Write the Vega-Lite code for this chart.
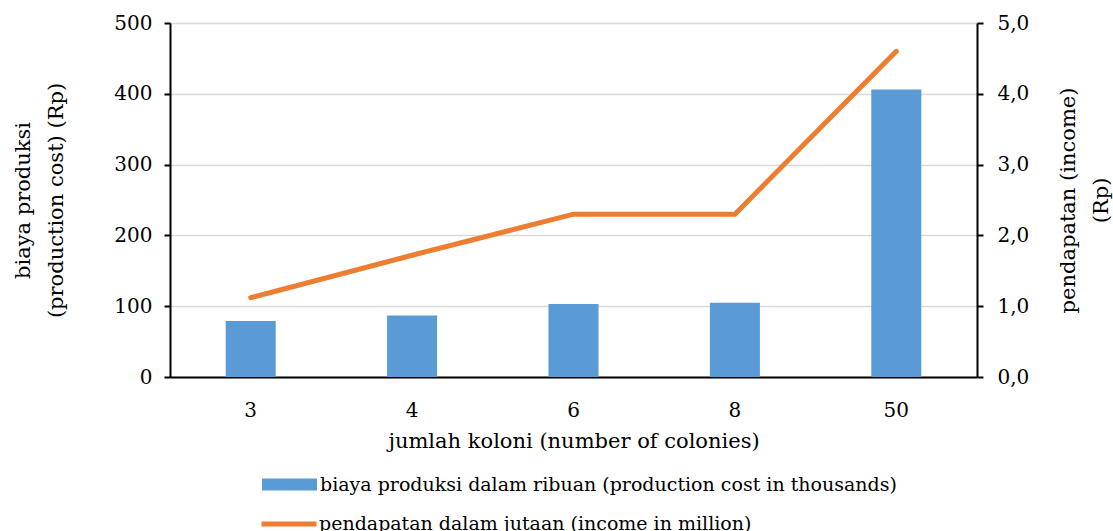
{
  "$schema": "https://vega.github.io/schema/vega-lite/v6.json",
  "width": 807,
  "height": 354,
  "autosize": {"type": "none"},
  "padding": {"left": 170, "top": 23, "right": 136, "bottom": 154},
  "background": "white",
  "config": {
    "locale": {"number": {"decimal": ",", "thousands": ".", "grouping": [3], "currency": ["Rp", ""]}},
    "view": {"stroke": null},
    "font": "DejaVu Serif",
    "axis": {
      "labelFont": "DejaVu Serif",
      "titleFont": "DejaVu Serif",
      "labelColor": "#000000",
      "titleColor": "#000000",
      "titleFontWeight": "normal",
      "labelFontSize": 20,
      "titleFontSize": 21,
      "titleLineHeight": 33,
      "domainColor": "#000000",
      "domainWidth": 2,
      "tickColor": "#000000",
      "tickWidth": 2,
      "gridColor": "#d9d9d9",
      "gridWidth": 1.5
    }
  },
  "data": {
    "values": [
      {"koloni": "3", "biaya": 79, "pendapatan": 1.12},
      {"koloni": "4", "biaya": 87, "pendapatan": 1.72},
      {"koloni": "6", "biaya": 103, "pendapatan": 2.3},
      {"koloni": "8", "biaya": 105, "pendapatan": 2.3},
      {"koloni": "50", "biaya": 406, "pendapatan": 4.6}
    ]
  },
  "encoding": {
    "x": {
      "field": "koloni",
      "type": "ordinal",
      "sort": null,
      "scale": {"paddingInner": 0.69, "paddingOuter": 0.345},
      "axis": {
        "title": "jumlah koloni (number of colonies)",
        "labelAngle": 0,
        "ticks": false,
        "tickSize": 0,
        "labelPadding": 23,
        "titlePadding": 10,
        "grid": false
      }
    }
  },
  "layer": [
    {
      "mark": {"type": "bar", "color": "#5B9BD5"},
      "encoding": {
        "y": {
          "field": "biaya",
          "type": "quantitative",
          "scale": {"domain": [0, 500]},
          "axis": {
            "values": [0, 100, 200, 300, 400, 500],
            "title": ["biaya produksi", "(production cost) (Rp)"],
            "tickSize": 6,
            "labelPadding": 12,
            "titlePadding": 47,
            "grid": true
          }
        },
        "color": {
          "datum": "biaya produksi dalam ribuan (production cost in thousands)",
          "scale": {"range": ["#5B9BD5"]},
          "legend": {
            "orient": "none",
            "legendX": 92,
            "legendY": 434,
            "title": null,
            "symbolType": "M-1,-0.22H1V0.22H-1Z",
            "symbolSize": 3025,
            "symbolStrokeWidth": 0,
            "symbolOpacity": 1,
            "labelFont": "DejaVu Serif",
            "labelFontSize": 19,
            "labelColor": "#000000",
            "labelOffset": 3,
            "labelLimit": 800
          }
        }
      }
    },
    {
      "mark": {"type": "line", "color": "#ED7D31", "strokeWidth": 5, "strokeCap": "round"},
      "encoding": {
        "y": {
          "field": "pendapatan",
          "type": "quantitative",
          "scale": {"domain": [0, 5]},
          "axis": {
            "orient": "right",
            "format": ".1f",
            "values": [0, 1, 2, 3, 4, 5],
            "title": ["pendapatan (income)", "(Rp)"],
            "titleAngle": -90,
            "titleBaseline": "top",
            "tickSize": 6,
            "labelPadding": 14,
            "titlePadding": -4,
            "grid": false
          }
        },
        "color": {
          "datum": "pendapatan dalam jutaan (income in million)",
          "scale": {"range": ["#ED7D31"]},
          "legend": {
            "orient": "none",
            "legendX": 89,
            "legendY": 471,
            "title": null,
            "symbolType": "stroke",
            "symbolSize": 3025,
            "symbolStrokeWidth": 5,
            "labelFont": "DejaVu Serif",
            "labelFontSize": 19,
            "labelColor": "#000000",
            "labelOffset": 0,
            "labelLimit": 800
          }
        }
      }
    }
  ],
  "resolve": {"scale": {"y": "independent", "color": "independent"}}
}
